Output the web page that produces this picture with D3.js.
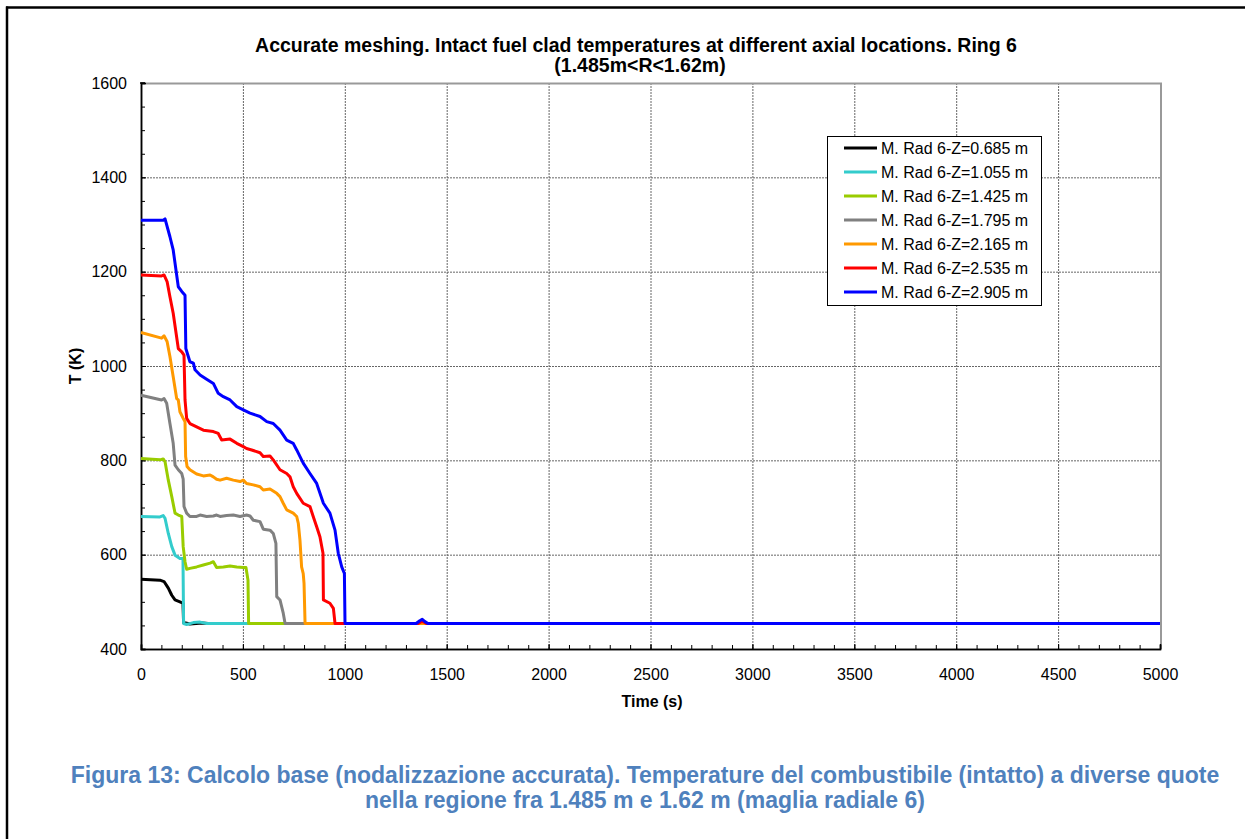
<!DOCTYPE html>
<html>
<head>
<meta charset="utf-8">
<script src="https://cdn.jsdelivr.net/npm/d3@7"></script>
<style>
  html, body { margin: 0; padding: 0; background: #fff; }
  svg { display: block; }
  text { font-family: Arial, "Liberation Sans", sans-serif; }
</style>
</head>
<body>
<svg id="chart" width="1245" height="839"></svg>
<script>
// ---------------- DATA ----------------
const titleLines = ["Accurate meshing. Intact fuel clad temperatures at different axial locations. Ring 6", "(1.485m<R<1.62m)"];
const captionLines = ["Figura 13: Calcolo base (nodalizzazione accurata). Temperature del combustibile (intatto) a diverse quote",
                      "nella regione fra 1.485 m e 1.62 m (maglia radiale 6)"];
const xTicks = [0, 500, 1000, 1500, 2000, 2500, 3000, 3500, 4000, 4500, 5000];
const yTicks = [400, 600, 800, 1000, 1200, 1400, 1600];
const seriesNames = ["M. Rad 6-Z=0.685 m", "M. Rad 6-Z=1.055 m", "M. Rad 6-Z=1.425 m", "M. Rad 6-Z=1.795 m",
                     "M. Rad 6-Z=2.165 m", "M. Rad 6-Z=2.535 m", "M. Rad 6-Z=2.905 m"];
const seriesColors = ["#000000", "#33CCCC", "#99CC00", "#808080", "#FF9900", "#FF0000", "#0000FF"];

// [time (s), temperature (K)]
const z0685 = [[0,548],[93,546],[113,543],[134,529],[151,514],[167,504],[191,500],[206,497],[209,456],[240,453],
  [300,455],[330,454],[5000,454]];
const z1055 = [[0,681],[93,680],[109,683],[118,677],[134,645],[151,617],[167,599],[191,592],[206,592],[209,454],
  [224,452],[257,456],[290,457],[322,454],[5000,454]];
const z1425 = [[0,804],[93,801],[109,803],[118,797],[134,758],[151,723],[167,688],[183,684],[200,681],[207,617],
  [216,585],[224,569],[240,571],[273,574],[306,578],[339,582],[355,585],[371,573],[404,574],[437,576],[470,574],
  [502,573],[515,573],[525,546],[528,454],[5000,454]];
const z1795 = [[0,938],[101,928],[113,931],[126,921],[142,878],[158,836],[167,790],[183,780],[200,772],[207,760],
  [211,702],[224,688],[240,681],[273,681],[290,684],[322,681],[355,682],[371,684],[388,681],[420,683],[453,684],
  [486,681],[518,684],[535,682],[551,673],[584,670],[600,654],[633,652],[649,645],[662,624],[666,511],[682,504],
  [698,476],[707,454],[5000,454]];
const z2165 = [[0,1071],[101,1059],[113,1064],[128,1052],[142,1020],[158,977],[175,931],[183,928],[191,903],
  [207,889],[216,882],[219,808],[226,787],[240,780],[273,771],[306,767],[339,769],[355,765],[371,760],[388,758],
  [420,762],[453,758],[486,755],[502,758],[518,751],[551,748],[584,744],[600,737],[633,739],[666,730],[682,723],
  [698,709],[715,695],[747,688],[764,681],[772,666],[780,631],[788,574],[796,560],[800,539],[805,454],[5000,454]];
const z2535 = [[0,1193],[101,1191],[113,1193],[128,1179],[142,1147],[158,1112],[183,1037],[200,1030],[211,1023],
  [216,928],[224,889],[240,878],[273,871],[306,864],[355,861],[379,857],[396,843],[437,845],[470,836],[502,829],
  [518,825],[543,822],[584,816],[600,808],[633,809],[649,801],[682,780],[715,772],[731,765],[747,744],[764,730],
  [796,709],[829,702],[845,681],[862,659],[878,638],[893,603],[895,504],[927,497],[944,486],[952,454],[1360,454],
  [1375,458],[1385,458],[1400,454],[5000,454]];
const z2905 = [[0,1309],[109,1309],[118,1312],[142,1274],[158,1246],[183,1168],[200,1158],[216,1150],[220,1037],
  [240,1009],[257,1006],[265,992],[290,981],[322,972],[355,963],[379,942],[404,935],[437,928],[470,914],[502,907],
  [535,900],[584,893],[617,882],[649,878],[682,864],[715,843],[747,836],[764,822],[796,794],[829,772],[862,751],
  [895,709],[927,688],[952,652],[968,603],[985,574],[998,560],[1001,454],[1350,454],[1368,460],[1380,463],
  [1393,458],[1408,454],[5000,454]];
const seriesData = [z0685, z1055, z1425, z1795, z2165, z2535, z2905];

// ---------------- LAYOUT ----------------
const svg = d3.select("#chart");
const plot = {left: 141, right: 1160, top: 83, bottom: 649};
const x = d3.scaleLinear().domain([0, 5000]).range([plot.left, plot.right]);
const y = d3.scaleLinear().domain([400, 1600]).range([plot.bottom, plot.top]);

// outer frame
svg.append("line").attr("x1", 6).attr("x2", 1245).attr("y1", 7.5).attr("y2", 7.5)
  .attr("stroke", "#000").attr("stroke-width", 2.5);
svg.append("line").attr("x1", 7).attr("x2", 7).attr("y1", 6.5).attr("y2", 839)
  .attr("stroke", "#000").attr("stroke-width", 2.5);

// grid
const grid = svg.append("g");
xTicks.slice(1, -1).forEach(v => {
  grid.append("line").attr("x1", x(v) + 0.5).attr("x2", x(v) + 0.5).attr("y1", plot.top).attr("y2", plot.bottom)
    .attr("stroke", "#666").attr("stroke-width", 1).attr("stroke-dasharray", "2,1");
});
yTicks.slice(1, -1).forEach(v => {
  grid.append("line").attr("x1", plot.left).attr("x2", plot.right).attr("y1", y(v) + 0.5).attr("y2", y(v) + 0.5)
    .attr("stroke", "#666").attr("stroke-width", 1).attr("stroke-dasharray", "2,1");
});

// top and right grey frame
svg.append("path")
  .attr("d", `M${plot.left},${plot.top + 0.5} H${plot.right + 1} V${plot.bottom}`)
  .attr("fill", "none").attr("stroke", "#999").attr("stroke-width", 2);

// axes
const xAxisMinor = d3.axisBottom(x).tickValues(d3.range(0, 5001, 100)).tickSize(-4).tickFormat("");
const xAxis = d3.axisBottom(x).tickValues(xTicks).tickSize(-5).tickPadding(20).tickFormat(d3.format("d"));
const gxm = svg.append("g").attr("transform", `translate(0,${plot.bottom})`).call(xAxisMinor);
const gx = svg.append("g").attr("transform", `translate(0,${plot.bottom})`).call(xAxis);
const yAxisMinor = d3.axisLeft(y).tickValues(d3.range(400, 1601, 50)).tickSize(-4).tickFormat("");
const yAxis = d3.axisLeft(y).tickValues(yTicks).tickSize(-5).tickPadding(14).tickFormat(d3.format("d"));
const gym = svg.append("g").attr("transform", `translate(${plot.left},0)`).call(yAxisMinor);
const gy = svg.append("g").attr("transform", `translate(${plot.left},0)`).call(yAxis);
[gxm, gx, gym, gy].forEach(g => {
  g.select(".domain").attr("stroke", "#000").attr("stroke-width", 1.5);
  g.selectAll(".tick line").attr("stroke", "#000").attr("stroke-width", 1);
  g.selectAll("text").attr("font-size", 16).attr("fill", "#000")
    .attr("font-family", "Arial, 'Liberation Sans', sans-serif");
});
svg.append("line").attr("x1", plot.left - 1).attr("x2", plot.left + 4).attr("y1", plot.top).attr("y2", plot.top)
  .attr("stroke", "#000").attr("stroke-width", 1.5);

// series lines
const line = d3.line().x(d => x(d[0])).y(d => y(d[1]));
const gl = svg.append("g");
seriesData.forEach((s, i) => {
  gl.append("path").datum(s).attr("d", line).attr("fill", "none")
    .attr("stroke", seriesColors[i]).attr("stroke-width", 3)
    .attr("stroke-linejoin", "round").attr("stroke-linecap", "butt");
});

// titles
svg.append("text").attr("x", 636).attr("y", 52).attr("text-anchor", "middle")
  .attr("font-size", 19.5).attr("font-weight", "bold").text(titleLines[0]);
svg.append("text").attr("x", 640).attr("y", 72).attr("text-anchor", "middle")
  .attr("font-size", 19.5).attr("font-weight", "bold").text(titleLines[1]);

// axis titles
svg.append("text").attr("x", 652).attr("y", 707).attr("text-anchor", "middle")
  .attr("font-size", 16).attr("font-weight", "bold").text("Time (s)");
svg.append("text").attr("transform", "translate(81,366) rotate(-90)").attr("text-anchor", "middle")
  .attr("font-size", 16).attr("font-weight", "bold").text("T (K)");

// legend
const lg = svg.append("g");
lg.append("rect").attr("x", 827.5).attr("y", 136.5).attr("width", 214).attr("height", 169)
  .attr("fill", "#fff").attr("stroke", "#000").attr("stroke-width", 1);
seriesNames.forEach((n, i) => {
  const yy = 148 + i * 24;
  lg.append("line").attr("x1", 844).attr("x2", 877).attr("y1", yy).attr("y2", yy)
    .attr("stroke", seriesColors[i]).attr("stroke-width", 3);
  lg.append("text").attr("x", 881).attr("y", yy + 5.5).attr("font-size", 16).text(n);
});

// caption
svg.append("text").attr("x", 645).attr("y", 783).attr("text-anchor", "middle")
  .attr("font-size", 23).attr("font-weight", "bold").attr("fill", "#4F81BD").text(captionLines[0]);
svg.append("text").attr("x", 645).attr("y", 808).attr("text-anchor", "middle")
  .attr("font-size", 23).attr("font-weight", "bold").attr("fill", "#4F81BD").text(captionLines[1]);
</script>
</body>
</html>
